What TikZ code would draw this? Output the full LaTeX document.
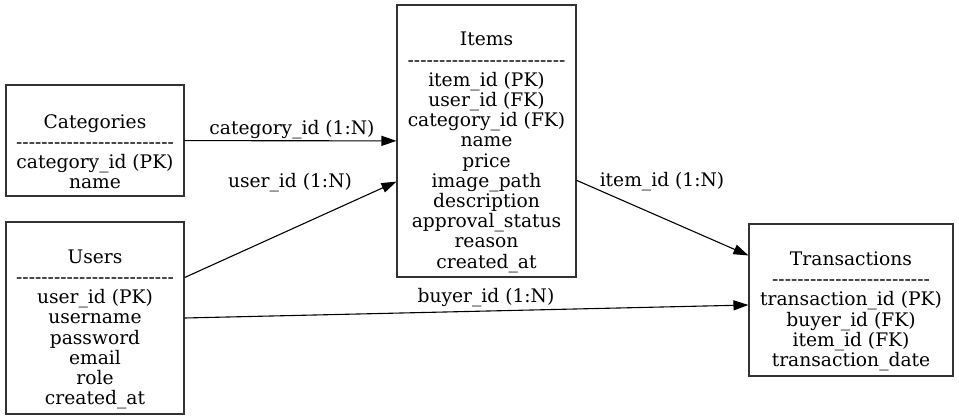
\documentclass[tikz,border=0pt]{standalone}
\usepackage{fontspec}
\setmainfont{DejaVu Serif}
\usetikzlibrary{arrows.meta}
\begin{document}
\begin{tikzpicture}[x=1pt,y=-1pt,
  entity/.style={draw=black!80,line width=1.1pt,rectangle,align=center,inner sep=0pt,
    font=\fontsize{18.67}{20.2}\selectfont},
  rel/.style={draw=black,line width=1.1pt,-{Triangle[length=15pt,width=10pt]}},
  lbl/.style={font=\fontsize{18.67}{20.2}\selectfont,inner sep=0pt}]
\useasboundingbox (0,0) rectangle (959,420);
\fill[white] (0,0) rectangle (959,420);
\def\dashline{-{}-{}-{}-{}-{}-{}-{}-{}-{}-{}-{}-{}-{}-{}-{}-{}-{}-{}-{}-{}-{}-{}-{}-{}-}
\node[entity,minimum width=178pt,minimum height=111pt] (cat) at (95,140.5)
  {\mbox{}\\[16pt]Categories\\\dashline\\category\_id (PK)\\name};
\node[entity,minimum width=178pt,minimum height=192pt] (users) at (95,318)
  {\mbox{}\\[16pt]Users\\\dashline\\user\_id (PK)\\username\\password\\email\\role\\created\_at};
\node[entity,minimum width=179pt,minimum height=272pt] (items) at (486.5,141)
  {\mbox{}\\[16pt]Items\\\dashline\\item\_id (PK)\\user\_id (FK)\\category\_id (FK)\\name\\price\\image\_path\\description\\approval\_status\\reason\\created\_at};
\node[entity,minimum width=204pt,minimum height=152pt] (trans) at (851,300)
  {\mbox{}\\[16pt]Transactions\\\dashline\\transaction\_id (PK)\\buyer\_id (FK)\\item\_id (FK)\\transaction\_date};
\draw[rel] (cat) -- (items);
\draw[rel] (users) -- (items);
\draw[rel] (items) -- (trans);
\draw[rel] (users.east) -- ([yshift=-5pt]trans.west);
\node[lbl] (l1) at (292,130) {category\_id (1:N)};
\node[lbl] (l2) at (290,183) {user\_id (1:N)};
\node[lbl] (l3) at (662,182) {item\_id (1:N)};
\node[lbl] (l4) at (486,298) {buyer\_id (1:N)};
\end{tikzpicture}
\end{document}
